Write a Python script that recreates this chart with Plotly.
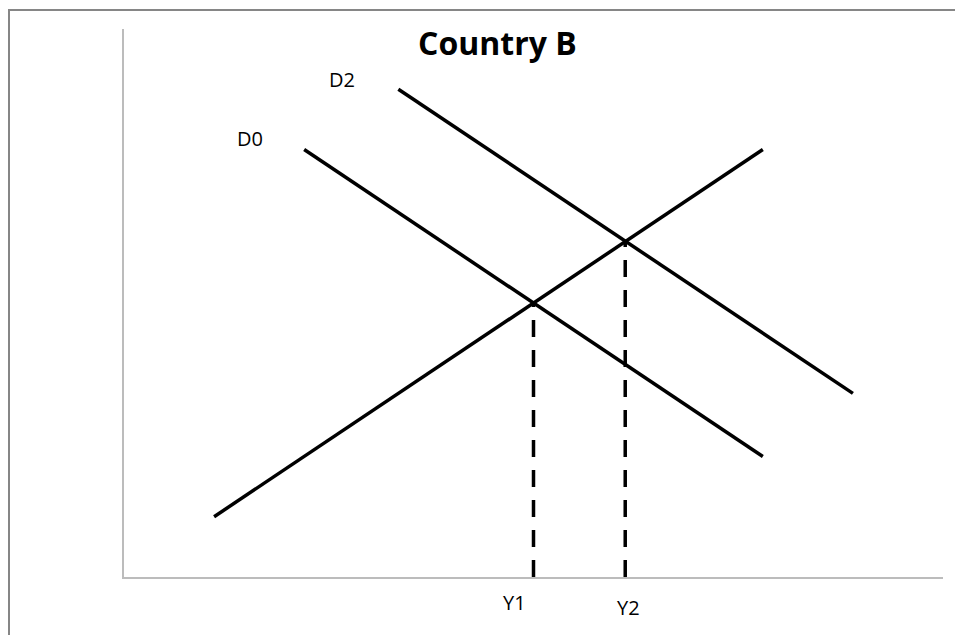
import plotly.graph_objects as go

# Data (arbitrary units, axis range 0-100)
supply_x = [11, 78]
supply_y = [11, 78]
d0_x = [22, 78]
d0_y = [78, 22]
d2_x = [33.5, 89]
d2_y = [89, 33.5]
y1_x = [50, 50]
y1_y = [0, 50]
y2_x = [61.2, 61.2]
y2_y = [0, 61.2]

W, H = 963, 635
OFF = 8  # page body margin
ML, MR, MT, MB = 124 - OFF, 20 + OFF, 29 - OFF, 58 + OFF

fig = go.Figure()
line_style = dict(color="black", width=3.5)
for xs, ys in [(supply_x, supply_y), (d0_x, d0_y), (d2_x, d2_y)]:
    fig.add_trace(go.Scatter(x=xs, y=ys, mode="lines", line=line_style,
                             showlegend=False, hoverinfo="skip"))
for xs, ys in [(y1_x, y1_y), (y2_x, y2_y)]:
    fig.add_trace(go.Scatter(x=xs, y=ys, mode="lines",
                             line=dict(color="black", width=3.5, dash="17px,13px"),
                             showlegend=False, hoverinfo="skip"))

font = "Open Sans, Noto Sans, DejaVu Sans, sans-serif"
ann = [
    ("D0", 0.154, 0.800),
    ("D2", 0.266, 0.907),
    ("Y1", 0.477, -0.047),
    ("Y2", 0.616, -0.055),
]
for t, x, y in ann:
    fig.add_annotation(x=x, y=y, xref="paper", yref="paper", text=t, showarrow=False,
                       font=dict(family=font, size=20, color="black"),
                       xanchor="center", yanchor="middle")

fig.add_annotation(x=0.456, y=0.975, xref="paper", yref="paper", text="<b>Country B</b>",
                   showarrow=False, font=dict(family=font, size=32, color="black"),
                   xanchor="center", yanchor="middle")

pw = W - ML - MR
ph = H - MT - MB
# outer border (clipped by page edges on right/bottom)
bx0, by0 = 9 - OFF, 10 - OFF
fig.add_shape(type="rect", xref="paper", yref="paper",
              x0=(bx0 - ML) / pw, x1=(W + 20 - ML) / pw,
              y0=(H - MB - (H + 20)) / ph, y1=(H - MB - by0) / ph,
              line=dict(color="#868686", width=2), layer="below")

fig.update_layout(
    width=W, height=H,
    margin=dict(l=ML, r=MR, t=MT, b=MB, pad=0),
    paper_bgcolor="white", plot_bgcolor="white",
    xaxis=dict(range=[0, 100], showgrid=False, zeroline=False, showticklabels=False,
               ticks="", showline=True, linecolor="#bcbcbc", linewidth=2, fixedrange=True),
    yaxis=dict(range=[0, 100], showgrid=False, zeroline=False, showticklabels=False,
               ticks="", showline=True, linecolor="#bcbcbc", linewidth=2, fixedrange=True),
)

fig.write_html("out.html")
